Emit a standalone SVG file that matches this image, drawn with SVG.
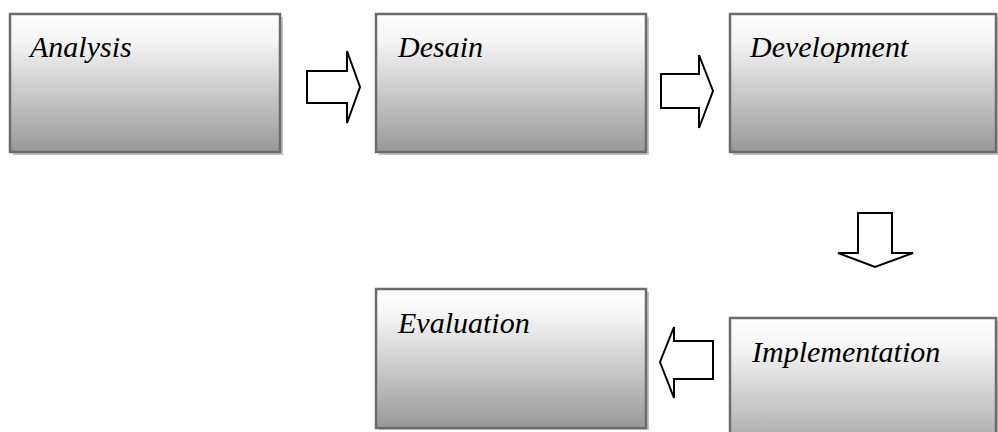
<svg xmlns="http://www.w3.org/2000/svg" width="998" height="432" viewBox="0 0 998 432">
  <defs>
    <linearGradient id="boxFill" x1="0" y1="0" x2="0" y2="1">
      <stop offset="0" stop-color="#ffffff"/>
      <stop offset="0.2" stop-color="#f4f4f4"/>
      <stop offset="0.6" stop-color="#c6c6c6"/>
      <stop offset="1" stop-color="#989898"/>
    </linearGradient>
  </defs>
  <style>
    .shadow { fill: #c4c4c4; }
    .box { fill: url(#boxFill); stroke: #6b6b6b; stroke-width: 2.5; }
    .arrow { fill: #ffffff; stroke: #000; stroke-width: 2; stroke-linejoin: miter; }
  </style>

  <rect width="998" height="432" fill="#ffffff"/>

  <g id="analysis">
    <rect class="shadow" x="13" y="17" width="270" height="138"/>
    <rect class="box" x="10" y="14" width="270" height="138"/>
    <text style="font-family:'Liberation Serif',serif;font-style:italic;font-size:30px" x="30" y="57">Analysis</text>
  </g>

  <g id="desain">
    <rect class="shadow" x="379" y="17" width="270" height="138"/>
    <rect class="box" x="376" y="14" width="270" height="138"/>
    <text style="font-family:'Liberation Serif',serif;font-style:italic;font-size:30px" x="398" y="57">Desain</text>
  </g>

  <g id="development">
    <rect class="shadow" x="733" y="17" width="266" height="138"/>
    <rect class="box" x="730" y="14" width="266" height="138"/>
    <text style="font-family:'Liberation Serif',serif;font-style:italic;font-size:30px" x="750" y="57">Development</text>
  </g>

  <g id="evaluation">
    <rect class="shadow" x="379" y="292" width="270" height="138"/>
    <rect class="box" x="376" y="289" width="270" height="139"/>
    <text style="font-family:'Liberation Serif',serif;font-style:italic;font-size:30px" x="398" y="333">Evaluation</text>
  </g>

  <g id="implementation">
    <rect class="shadow" x="733" y="321" width="266" height="150"/>
    <rect class="box" x="730" y="318" width="266" height="150"/>
    <text style="font-family:'Liberation Serif',serif;font-style:italic;font-size:30px" x="752" y="362">Implementation</text>
  </g>

  <g id="connectors">
    <polygon class="arrow" points="307,71 347,71 347,51 360,87 347,123 347,103 307,103"/>
    <polygon class="arrow" points="661,74 699,74 699,55 713,91 699,128 699,108 661,108"/>
    <polygon class="arrow" points="858,213 892,213 892,253 913,253 875,267 838,253 858,253"/>
    <polygon class="arrow" points="713,341 674,341 674,327 660,362 674,398 674,379 713,379"/>
  </g>
</svg>
